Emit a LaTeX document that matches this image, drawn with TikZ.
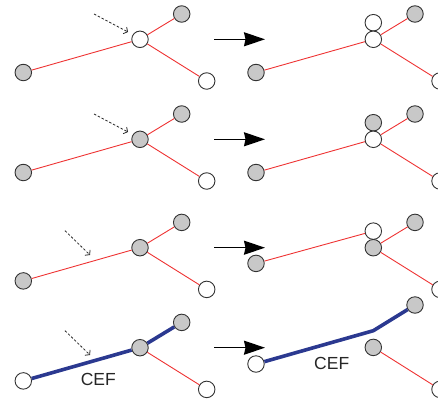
\documentclass[tikz,border=0pt]{standalone}
\usepackage{fontspec}
\setsansfont{Liberation Sans}
\usetikzlibrary{arrows.meta}
\definecolor{edgered}{HTML}{EE3333}
\definecolor{cefblue}{HTML}{2B3990}
\definecolor{nodegray}{HTML}{C8C8C8}
\tikzset{
 vtx/.style={circle,draw=black!80,line width=0.9pt,minimum size=16.5pt,inner sep=0pt},
 gv/.style={vtx,fill=nodegray},
 wv/.style={vtx,fill=white},
 redge/.style={draw=edgered,line width=0.9pt},
 cefedge/.style={draw=cefblue,line width=3.6pt},
 hint/.style={draw=black!85,line width=0.8pt,dash pattern=on 2.5pt off 1.8pt,-{Straight Barb[length=3pt,width=7.5pt]}},
 bigarrow/.style={draw=black,line width=1.4pt,-{Stealth[length=21pt,width=14pt,inset=1.5pt]}},
 lbl/.style={font=\sffamily\fontsize{17.5}{20}\selectfont,text=black!85,inner sep=0pt}
}
\begin{document}
\begin{tikzpicture}[x=1pt,y=-1pt]
\useasboundingbox (0,0) rectangle (438,399);
\clip (0,0) rectangle (438,399);

% ---------- Row 1 ----------
\begin{scope}[shift={(0,0)}]
\node[gv] (a1) at (23.3,72.5) {};
\node[wv] (b1) at (140,39.3) {};
\node[gv] (c1) at (181.7,14) {};
\node[wv] (d1) at (206.7,81) {};
\draw[redge] (a1) -- (b1);
\draw[redge] (b1) -- (c1);
\draw[redge] (b1) -- (d1);
\coordinate (h1s) at (94,14);
\coordinate (h1e) at (128,32);
\draw[hint] (h1s) -- (h1e);
\coordinate (m1s) at (214,39.3);
\coordinate (m1e) at (265,39.3);
\draw[bigarrow] (m1s) -- (m1e);
\node[gv] (ra1) at (256,72.5) {};
\node[wv] (rt1) at (373.3,22.7) {};
\node[wv] (rb1) at (373.3,39.3) {};
\node[gv] (rc1) at (415,14) {};
\node[wv] (rd1) at (440,81) {};
\draw[redge] (ra1) -- (rb1);
\draw[redge] (rb1) -- (rc1);
\draw[redge] (rb1) -- (rd1);
\end{scope}

% ---------- Row 2 ----------
\begin{scope}[shift={(0,100)}]
\node[gv] (a2) at (23.3,72.5) {};
\node[gv] (b2) at (140,39.3) {};
\node[gv] (c2) at (181.7,14) {};
\node[wv] (d2) at (206.7,81) {};
\draw[redge] (a2) -- (b2);
\draw[redge] (b2) -- (c2);
\draw[redge] (b2) -- (d2);
\coordinate (h2s) at (94,14);
\coordinate (h2e) at (128,32);
\draw[hint] (h2s) -- (h2e);
\coordinate (m2s) at (214,39.3);
\coordinate (m2e) at (265,39.3);
\draw[bigarrow] (m2s) -- (m2e);
\node[gv] (ra2) at (256,72.5) {};
\node[gv] (rt2) at (373.3,22.7) {};
\node[wv] (rb2) at (373.3,39.3) {};
\node[gv] (rc2) at (415,14) {};
\node[wv] (rd2) at (440,81) {};
\draw[redge] (ra2) -- (rb2);
\draw[redge] (rb2) -- (rc2);
\draw[redge] (rb2) -- (rd2);
\end{scope}

% ---------- Row 3 ----------
\begin{scope}[shift={(0,208.4)}]
\node[gv] (a3) at (23.3,72.5) {};
\node[gv] (b3) at (140,39.3) {};
\node[gv] (c3) at (181.7,14) {};
\node[wv] (d3) at (206.7,81) {};
\draw[redge] (a3) -- (b3);
\draw[redge] (b3) -- (c3);
\draw[redge] (b3) -- (d3);
\coordinate (h3s) at (65,22.3);
\coordinate (h3e) at (90,46.6);
\draw[hint] (h3s) -- (h3e);
\coordinate (m3s) at (214,39.3);
\coordinate (m3e) at (265,39.3);
\draw[bigarrow] (m3s) -- (m3e);
\node[gv] (ra3) at (256,55) {};
\node[wv] (rt3) at (373.3,22.7) {};
\node[gv] (rb3) at (373.3,39.3) {};
\node[gv] (rc3) at (415,14) {};
\node[wv] (rd3) at (440,81) {};
\draw[redge] (ra3) -- (rt3);
\draw[redge] (rb3) -- (rc3);
\draw[redge] (rb3) -- (rd3);
\end{scope}

% ---------- Row 4 ----------
\begin{scope}[shift={(0,308.4)}]
\node[wv] (a4) at (23.3,72.5) {};
\node[gv] (b4) at (140,39.3) {};
\node[gv] (c4) at (181.7,14) {};
\node[wv] (d4) at (206.7,81) {};
\draw[cefedge] (a4) -- (b4);
\draw[cefedge] (b4) -- (c4);
\draw[redge] (b4) -- (d4);
\node[lbl] (l4) at (98.3,71) {CEF};
\coordinate (h4s) at (65,22.3);
\coordinate (h4e) at (90,46.6);
\draw[hint] (h4s) -- (h4e);
\coordinate (m4s) at (214,39.3);
\coordinate (m4e) at (265,39.3);
\draw[bigarrow] (m4s) -- (m4e);
\node[wv] (ra4) at (256,55.6) {};
\coordinate (rk4) at (373.3,22.3);
\node[gv] (rb4) at (373.3,39) {};
\node[gv] (rc4) at (415,-3.4) {};
\node[wv] (rd4) at (440,81) {};
\draw[cefedge,line join=miter] (ra4) -- (rk4) -- (rc4);
\draw[redge] (rb4) -- (rd4);
\node[lbl] (rl4) at (331.7,55) {CEF};
\end{scope}
\end{tikzpicture}
\end{document}
